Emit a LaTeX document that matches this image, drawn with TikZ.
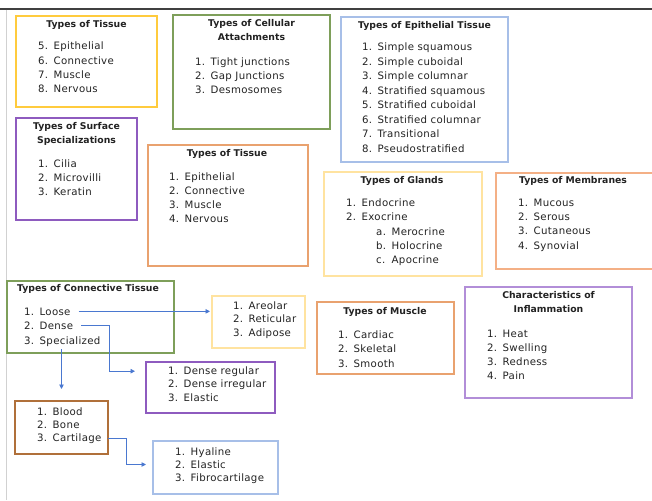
\documentclass[tikz,border=0pt]{standalone}
\usepackage{fontspec}
\setmainfont{DejaVu Sans}
\newfontfamily\itemfont[LetterSpace=3]{DejaVu Sans}
\usetikzlibrary{calc,arrows.meta}
\definecolor{cyellow}{HTML}{FFCB3D}
\definecolor{cgreen}{HTML}{7E9F5A}
\definecolor{clblue}{HTML}{A7BFE8}
\definecolor{cpurple}{HTML}{8E5BBF}
\definecolor{ctan}{HTML}{E9A26F}
\definecolor{clyellow}{HTML}{FFE3A0}
\definecolor{corange}{HTML}{F4B086}
\definecolor{clpurple}{HTML}{B28ED8}
\definecolor{cbrown}{HTML}{B0703A}
\definecolor{carrow}{HTML}{4A78D0}
\definecolor{ctext}{HTML}{222222}
\tikzset{
  box/.style={draw=#1, line width=1.2pt, rectangle, inner sep=0pt, outer sep=0pt, anchor=north west},
  ttl/.style={font=\fontsize{9.3}{14}\selectfont\bfseries, align=center, inner sep=0pt, anchor=north, text=ctext},
  itm/.style={font=\itemfont\fontsize{10.2}{12}\selectfont, inner sep=0pt, anchor=base west, text=ctext},
  arr/.style={draw=carrow, line width=0.9pt, -{Triangle[length=4.5pt,width=4.5pt]}},
}
\newcommand\mklist[5]{%
  \foreach \n/\t [count=\i] in {#5} {%
    \node[itm] (#1\i) at (#2, {#3+(\i-1)*#4}) {\makebox[15.5pt][l]{\n}\t};}}
\begin{document}
\begin{tikzpicture}[x=1pt,y=-1pt]
\useasboundingbox (0,0) rectangle (652,500);
\draw[black!75, line width=1.3pt] (0,9) -- (652,9);
\draw[black!18, line width=1pt] (6.5,10) -- (6.5,500);

% Types of Tissue (5-8)
\node[box=cyellow, minimum width=141pt, minimum height=91pt] (tisA) at (16,16) {};
\node[ttl] (tisAt) at (86.5,20.5) {Types of Tissue};
\mklist{tA}{38}{50}{14.3}{5./Epithelial, 6./Connective, 7./Muscle, 8./Nervous}

% Cellular attachments
\node[box=cgreen, minimum width=157pt, minimum height=114pt] (att) at (173,15) {};
\node[ttl] (attt) at (251.5,19.5) {Types of Cellular\\Attachments};
\mklist{at}{195}{66}{14}{1./Tight junctions, 2./Gap Junctions, 3./Desmosomes}

% Epithelial
\node[box=clblue, minimum width=167pt, minimum height=145pt] (epi) at (341,17) {};
\node[ttl] (epit) at (424.5,21.5) {Types of Epithelial Tissue};
\mklist{ep}{362}{51}{14.43}{1./Simple squamous, 2./Simple cuboidal, 3./Simple columnar, 4./Stratified squamous, 5./Stratified cuboidal, 6./Stratified columnar, 7./Transitional, 8./Pseudostratified}

% Surface specializations
\node[box=cpurple, minimum width=121pt, minimum height=102pt] (sur) at (16,118) {};
\node[ttl] (surt) at (76.5,122.5) {Types of Surface\\Specializations};
\mklist{su}{38}{167}{14}{1./Cilia, 2./Microvilli, 3./Keratin}

% Types of Tissue (1-4)
\node[box=ctan, minimum width=160pt, minimum height=121pt] (tisB) at (148,145) {};
\node[ttl] (tisBt) at (227,149.5) {Types of Tissue};
\mklist{tB}{169}{180}{14.3}{1./Epithelial, 2./Connective, 3./Muscle, 4./Nervous}

% Glands
\node[box=clyellow, minimum width=158pt, minimum height=104pt] (gla) at (324,172) {};
\node[ttl] (glat) at (402,176.5) {Types of Glands};
\mklist{gl}{346}{206}{14.5}{1./Endocrine, 2./Exocrine}
\mklist{gs}{376}{235}{14.4}{a./Merocrine, b./Holocrine, c./Apocrine}

% Membranes
\node[box=corange, minimum width=162pt, minimum height=96pt] (mem) at (496,173) {};
\node[ttl] (memt) at (573,176.5) {Types of Membranes};
\mklist{me}{518}{206}{14.4}{1./Mucous, 2./Serous, 3./Cutaneous, 4./Synovial}

% Connective tissue
\node[box=cgreen, minimum width=167pt, minimum height=72pt] (con) at (7,281) {};
\node[ttl] (cont) at (88,284.5) {Types of Connective Tissue};
\mklist{ct}{24}{315}{14.5}{1./Loose, 2./Dense, 3./Specialized}

% Areolar
\node[box=clyellow, minimum width=93pt, minimum height=52pt] (are) at (212,296) {};
\mklist{ar}{233}{309}{13.5}{1./Areolar, 2./Reticular, 3./Adipose}

% Dense
\node[box=cpurple, minimum width=129pt, minimum height=51pt] (den) at (146,362) {};
\mklist{de}{168}{374}{13.5}{1./Dense regular, 2./Dense irregular, 3./Elastic}

% Muscle
\node[box=ctan, minimum width=137pt, minimum height=72pt] (mus) at (317,302) {};
\node[ttl] (must) at (385,307.5) {Types of Muscle};
\mklist{mu}{338}{338}{14.5}{1./Cardiac, 2./Skeletal, 3./Smooth}

% Inflammation
\node[box=clpurple, minimum width=167pt, minimum height=111pt] (inf) at (465,287) {};
\node[ttl] (inft) at (548.5,291.5) {Characteristics of\\Inflammation};
\mklist{in}{487}{337}{14.2}{1./Heat, 2./Swelling, 3./Redness, 4./Pain}

% Blood
\node[box=cbrown, minimum width=93pt, minimum height=53pt] (blo) at (15,401) {};
\mklist{bl}{37}{415}{13.3}{1./Blood, 2./Bone, 3./Cartilage}

% Hyaline
\node[box=clblue, minimum width=125pt, minimum height=53pt] (hya) at (153,441) {};
\mklist{hy}{175}{455}{13.3}{1./Hyaline, 2./Elastic, 3./Fibrocartilage}

% connectors
\draw[arr] ([xshift=8pt]ct1.east) -- ([xshift=-2pt]are.west |- ct1.east);
\draw[arr] ([xshift=8pt]ct2.east) -| ($(den.west |- de1.east)+(-37,0)$) -- ($(den.west |- de1.east)+(-11,0)$);
\draw[arr] ([yshift=-3pt]ct3.south -| blo.north) -- ([yshift=12pt]blo.north);
\draw[arr] ([xshift=6pt]bl3.east) -| ($(hya.west |- hy2.east)+(-27,0)$) -- ($(hya.west |- hy2.east)+(-7,0)$);
\end{tikzpicture}
\end{document}
